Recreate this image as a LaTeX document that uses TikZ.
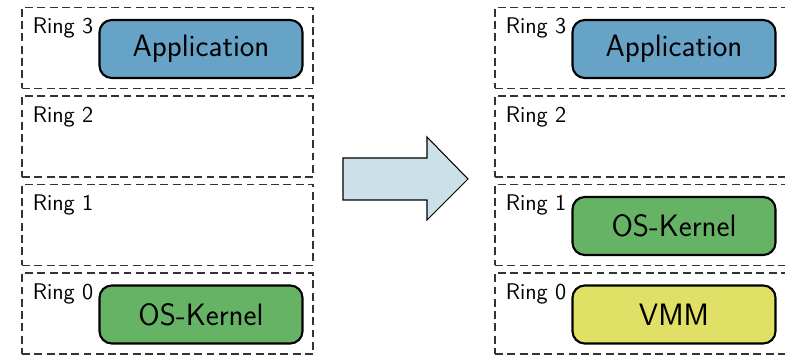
\documentclass[tikz,border=0pt]{standalone}
\usepackage{xcolor}
\usepackage{tikz}
\usetikzlibrary{calc}

\definecolor{appblue}{RGB}{102,163,199}
\definecolor{kernelgreen}{RGB}{102,179,102}
\definecolor{vmmyellow}{RGB}{224,224,102}
\definecolor{arrowblue}{RGB}{204,224,234}

\tikzset{
    ring/.style={draw=black!80, line width=0.6pt, dash pattern=on 4.5pt off 2.5pt,
        minimum width=5.82cm, minimum height=1.62cm, inner sep=0pt, outer sep=0pt},
    ringlabel/.style={anchor=north west, inner sep=0pt, font=\sffamily\fontsize{12.9}{15}\selectfont},
    layer/.style={draw=black, line width=1.2pt, rounded corners=7pt,
        minimum width=4.06cm, minimum height=1.16cm, font=\sffamily\fontsize{17.6}{21}\selectfont}
}

\begin{document}
\begin{tikzpicture}

            \useasboundingbox (0,0) rectangle (15.7,7.1);

            % Rings before (left column)
            \node[ring] (L3) at (3.35,6.14) {};
            \node[ring] (L2) at (3.35,4.37) {};
            \node[ring] (L1) at (3.35,2.60) {};
            \node[ring] (L0) at (3.35,0.83) {};

            % Rings after (right column)
            \node[ring] (R3) at (12.81,6.14) {};
            \node[ring] (R2) at (12.81,4.37) {};
            \node[ring] (R1) at (12.81,2.60) {};
            \node[ring] (R0) at (12.81,0.83) {};

            % Labels for the rings
            \node[ringlabel] (lL3) at ($(L3.north west)+(0.21,-0.2)$) {Ring 3};
            \node[ringlabel] (lL2) at ($(L2.north west)+(0.21,-0.2)$) {Ring 2};
            \node[ringlabel] (lL1) at ($(L1.north west)+(0.21,-0.2)$) {Ring 1};
            \node[ringlabel] (lL0) at ($(L0.north west)+(0.21,-0.2)$) {Ring 0};
            \node[ringlabel] (lR3) at ($(R3.north west)+(0.21,-0.2)$) {Ring 3};
            \node[ringlabel] (lR2) at ($(R2.north west)+(0.21,-0.2)$) {Ring 2};
            \node[ringlabel] (lR1) at ($(R1.north west)+(0.21,-0.2)$) {Ring 1};
            \node[ringlabel] (lR0) at ($(R0.north west)+(0.21,-0.2)$) {Ring 0};

            % Software layers inside the rings
            \node[layer, fill=appblue] (appL) at ($(L3)+(0.67,-0.02)$) {Application};      % Application, ring 3
            \node[layer, fill=kernelgreen] (kernelL) at ($(L0)+(0.67,-0.02)$) {OS-Kernel}; % Kernel, ring 0
            \node[layer, fill=appblue] (appR) at ($(R3)+(0.67,-0.02)$) {Application};      % Application, ring 3
            \node[layer, fill=kernelgreen] (kernelR) at ($(R1)+(0.67,-0.02)$) {OS-Kernel}; % Kernel, ring 1
            \node[layer, fill=vmmyellow] (vmm) at ($(R0)+(0.67,-0.02)$) {VMM};             % VMM, ring 0

            % Big arrow between the two columns
            \draw[fill=arrowblue, draw=black, line width=0.6pt]
                (6.86,3.10) -- (6.86,3.94) -- (8.54,3.94) -- (8.54,4.36)
                -- (9.36,3.52) -- (8.54,2.70) -- (8.54,3.10) -- cycle;

        \end{tikzpicture}
\end{document}
